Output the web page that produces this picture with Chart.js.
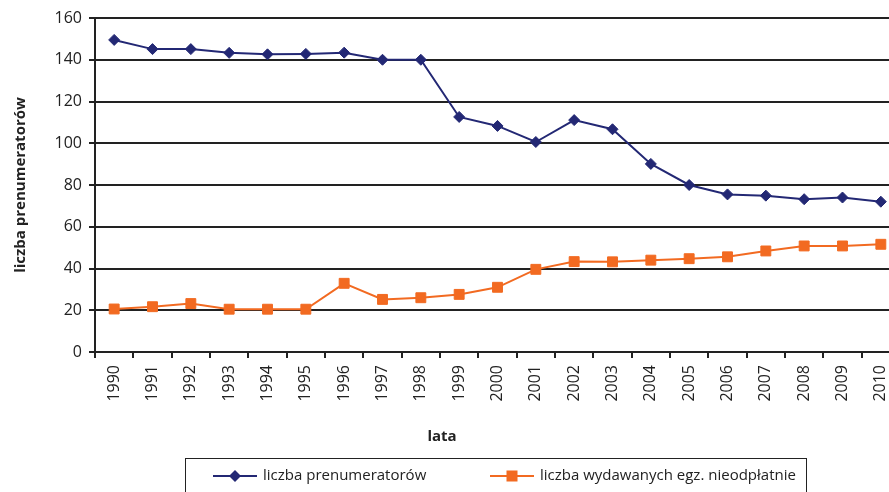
<!DOCTYPE html>
<html>
<head>
<meta charset="utf-8">
<script src="https://cdn.jsdelivr.net/npm/chart.js@4/dist/chart.umd.min.js"></script>
<style>
html, body { margin: 0; padding: 0; overflow: hidden; background: #fff; }
#wrap { position: absolute; left: 0; top: 0; width: 908px; height: 492px; }
</style>
</head>
<body>
<div id="wrap"><canvas id="chart" width="908" height="492"></canvas></div>
<script>
var years = ['1990', '1991', '1992', '1993', '1994', '1995', '1996', '1997', '1998', '1999', '2000',
             '2001', '2002', '2003', '2004', '2005', '2006', '2007', '2008', '2009', '2010'];
var subscribers = [149.5, 145.1, 145.1, 143.3, 142.6, 142.8, 143.4, 140, 140, 112.6, 108.3,
                   100.6, 111.1, 106.7, 90.1, 80, 75.5, 74.9, 73.2, 74, 72];
var freeCopies = [20.6, 21.7, 23.2, 20.5, 20.5, 20.5, 32.9, 25.2, 26, 27.6, 31,
                  39.6, 43.3, 43.2, 44, 44.7, 45.6, 48.4, 50.8, 50.8, 51.6];
var yMin = 0, yMax = 160, yStep = 20;

var navy = '#232874';
var orange = '#f26a21';
var font = '"Open Sans", "DejaVu Sans", sans-serif';

// x axis title + boxed legend, drawn where the original had them
var extras = {
    id: 'extras',
    afterDraw: function (chart) {
        var ctx = chart.ctx;
        ctx.save();
        ctx.fillStyle = '#222';
        ctx.font = 'bold 15px ' + font;
        ctx.textAlign = 'center';
        ctx.textBaseline = 'middle';
        ctx.fillText('lata', 442, 437);

        ctx.strokeStyle = '#222';
        ctx.lineWidth = 1;
        ctx.strokeRect(185.5, 458.5, 621, 40);

        var starts = [213, 490];
        var y = 476;
        chart.data.datasets.forEach(function (ds, i) {
            var x0 = starts[i];
            ctx.strokeStyle = ds.borderColor;
            ctx.lineWidth = 2;
            ctx.beginPath();
            ctx.moveTo(x0, y);
            ctx.lineTo(x0 + 44, y);
            ctx.stroke();
            ctx.fillStyle = ds.borderColor;
            var cx = x0 + 22;
            if (ds.pointStyle === 'rectRot') {
                ctx.beginPath();
                ctx.moveTo(cx, y - 6);
                ctx.lineTo(cx + 6, y);
                ctx.lineTo(cx, y + 6);
                ctx.lineTo(cx - 6, y);
                ctx.closePath();
                ctx.fill();
            } else {
                ctx.fillRect(cx - 5.5, y - 5.5, 11, 11);
            }
            ctx.fillStyle = '#222';
            ctx.font = '15px ' + font;
            ctx.textAlign = 'left';
            ctx.fillText(ds.label, x0 + 50, y);
        });
        ctx.restore();
    }
};

var ctx = document.getElementById('chart').getContext('2d');
var chart = new Chart(ctx, {
    type: 'line',
    data: {
        labels: years,
        datasets: [{
            label: 'liczba prenumeratorów',
            data: subscribers,
            borderColor: navy,
            backgroundColor: navy,
            borderWidth: 2,
            pointStyle: 'rectRot',
            pointRadius: 5.5,
            pointBorderWidth: 1,
            tension: 0
        }, {
            label: 'liczba wydawanych egz. nieodpłatnie',
            data: freeCopies,
            borderColor: orange,
            backgroundColor: orange,
            borderWidth: 2,
            pointStyle: 'rect',
            pointRadius: 7,
            pointBorderWidth: 1,
            tension: 0
        }]
    },
    options: {
        responsive: false,
        animation: false,
        layout: { padding: { top: 18, left: 0, right: 0, bottom: 0 } },
        plugins: {
            legend: { display: false },
            tooltip: { enabled: false }
        },
        scales: {
            x: {
                offset: true,
                grid: { offset: true, drawOnChartArea: false, tickLength: 6, color: '#222', lineWidth: 2 },
                border: { color: '#222', width: 2 },
                ticks: {
                    minRotation: 90, maxRotation: 90, padding: 7,
                    color: '#222', font: { family: font, size: 16 }
                },
                afterFit: function (s) { s.height = 140; }
            },
            y: {
                min: yMin, max: yMax,
                grid: { color: '#222', lineWidth: 2, tickLength: 6 },
                border: { color: '#222', width: 2 },
                ticks: { stepSize: yStep, padding: 7, color: '#222', font: { family: font, size: 16 } },
                title: {
                    display: true, text: 'liczba prenumeratorów', color: '#222',
                    font: { family: font, size: 15, weight: 'bold' }, padding: { top: 12, bottom: 4 }
                },
                afterFit: function (s) { s.width = 95; }
            }
        }
    },
    plugins: [extras]
});
</script>
</body>
</html>
